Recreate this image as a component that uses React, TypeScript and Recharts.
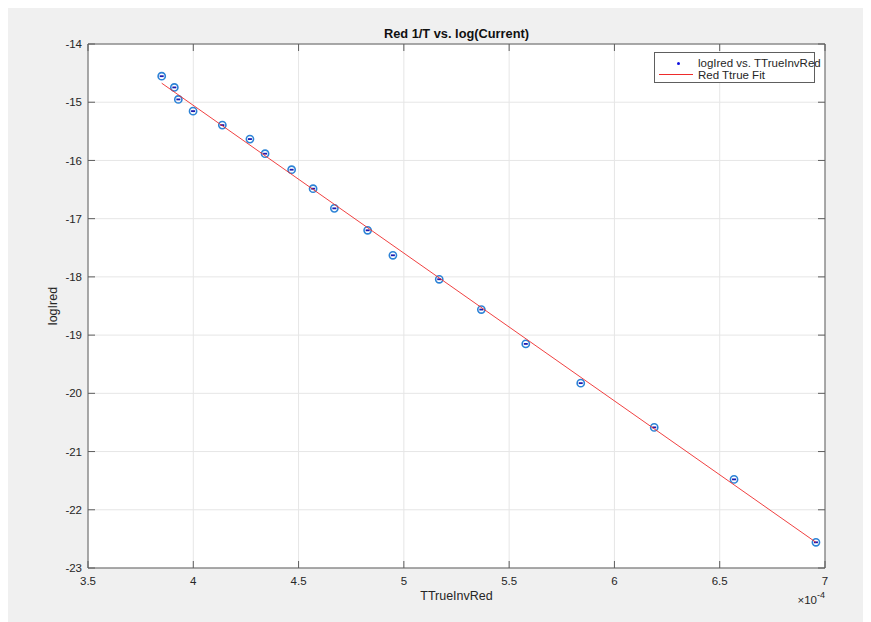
import React from "react";
import { ComposedChart, Scatter, XAxis, YAxis, CartesianGrid } from "recharts";

// Measured data (x in units of 1e-4)
const xValues = [3.850, 3.910, 3.929, 3.999, 4.138, 4.269, 4.341, 4.467, 4.569, 4.670, 4.828, 4.948, 5.168, 5.368, 5.579, 5.840, 6.189, 6.568, 6.957];
const yValues = [-14.553, -14.746, -14.952, -15.153, -15.393, -15.633, -15.884, -16.159, -16.485, -16.823, -17.200, -17.629, -18.041, -18.561, -19.151, -19.825, -20.585, -21.478, -22.559];
const fitX = [3.850, 6.957];
const fitY = [-14.673, -22.559];
const xTicks = [3.5, 4, 4.5, 5, 5.5, 6, 6.5, 7];
const yTicks = [-23, -22, -21, -20, -19, -18, -17, -16, -15, -14];

const pointData = xValues.map((x, i) => ({ x, y: yValues[i] }));
const fitData = fitX.map((x, i) => ({ x, y: fitY[i] }));

const FONT = "'Liberation Sans', Arial, Helvetica, sans-serif";
const AXIS = "#5e5e5e";
const TEXT = "#262626";
const TICK = 7;

const fmt = (v: number) => String(v);

const BottomTick = (p: any) => {
  const { x, y, payload } = p;
  const ay = y - 13;
  return (
    <g>
      <line x1={x} x2={x} y1={ay} y2={ay - TICK} stroke={AXIS} strokeWidth={1} />
      <text x={x} y={y} dy="0.36em" textAnchor="middle" fontSize={11.5} fontFamily={FONT} fill={TEXT}>
        {fmt(payload.value)}
      </text>
    </g>
  );
};
const TopTick = (p: any) => {
  const { x, y } = p;
  return <line x1={x} x2={x} y1={y} y2={y + TICK} stroke={AXIS} strokeWidth={1} />;
};
const LeftTick = (p: any) => {
  const { x, y, payload } = p;
  const ax = x + 6;
  return (
    <g>
      <line x1={ax} x2={ax + TICK} y1={y} y2={y} stroke={AXIS} strokeWidth={1} />
      <text x={x} y={y} dy="0.36em" textAnchor="end" fontSize={11.5} fontFamily={FONT} fill={TEXT}>
        {fmt(payload.value)}
      </text>
    </g>
  );
};
const RightTick = (p: any) => {
  const { x, y } = p;
  return <line x1={x} x2={x - TICK} y1={y} y2={y} stroke={AXIS} strokeWidth={1} />;
};

const PointShape = (p: any) => {
  const { cx, cy } = p;
  if (cx == null || cy == null) return null;
  return (
    <g>
      <circle cx={cx} cy={cy} r={3.6} fill="none" stroke="#2c83d6" strokeWidth={1.6} />
      <rect x={cx - 2} y={cy - 0.9} width={4} height={1.8} fill="#1b1bb0" />
    </g>
  );
};
const NoShape = () => null;

export default function App() {
  return (
    <div style={{ position: "relative", width: 863, height: 614, background: "#f0f0f0", fontFamily: FONT }}>
      <ComposedChart
        width={863}
        height={614}
        margin={{ top: 26, right: 36, bottom: 24, left: 30 }}
      >
        <CartesianGrid fill="#ffffff" stroke="#e6e6e6" strokeWidth={1} />
        <XAxis
          dataKey="x"
          type="number"
          domain={[3.5, 7]}
          ticks={xTicks}
          allowDataOverflow
          height={30}
          tickSize={0}
          tickMargin={13}
          tickLine={false}
          axisLine={{ stroke: AXIS, strokeWidth: 1 }}
          tick={<BottomTick />}
          interval={0}
        />
        <XAxis
          xAxisId="top"
          orientation="top"
          dataKey="x"
          type="number"
          domain={[3.5, 7]}
          ticks={xTicks}
          allowDataOverflow
          height={10}
          tickSize={0}
          tickMargin={0}
          tickLine={false}
          axisLine={{ stroke: AXIS, strokeWidth: 1 }}
          tick={<TopTick />}
          interval={0}
        />
        <YAxis
          dataKey="y"
          type="number"
          domain={[-23, -14]}
          ticks={yTicks}
          allowDataOverflow
          width={50}
          tickSize={0}
          tickMargin={6}
          tickLine={false}
          axisLine={{ stroke: AXIS, strokeWidth: 1 }}
          tick={<LeftTick />}
          interval={0}
        />
        <YAxis
          yAxisId="right"
          orientation="right"
          dataKey="y"
          type="number"
          domain={[-23, -14]}
          ticks={yTicks}
          allowDataOverflow
          width={10}
          tickSize={0}
          tickMargin={0}
          tickLine={false}
          axisLine={{ stroke: AXIS, strokeWidth: 1 }}
          tick={<RightTick />}
          interval={0}
        />
        <Scatter data={pointData} shape={<PointShape />} isAnimationActive={false} />
        <Scatter
          data={fitData}
          shape={<NoShape />}
          line={{ stroke: "#ee2b2b", strokeWidth: 0.9 }}
          isAnimationActive={false}
        />
      </ComposedChart>

      {/* Title */}
      <div style={{ position: "absolute", left: 0, width: 897, top: 17, height: 18, lineHeight: "18px", textAlign: "center", fontSize: 12.8, fontWeight: "bold", color: "#111" }}>
        Red 1/T vs. log(Current)
      </div>
      {/* X label */}
      <div style={{ position: "absolute", left: 0, width: 897, top: 580, height: 17, lineHeight: "17px", textAlign: "center", fontSize: 12.5, color: TEXT }}>
        TTrueInvRed
      </div>
      {/* x10^-4 */}
      <div style={{ position: "absolute", right: 863 - 817, top: 583, height: 18, lineHeight: "18px", fontSize: 11.5, color: TEXT, whiteSpace: "nowrap" }}>
        ×10<sup style={{ fontSize: 9, position: "relative", top: -1, verticalAlign: "super", lineHeight: 0 }}>-4</sup>
      </div>
      {/* Y label */}
      <div style={{ position: "absolute", left: 44.5 - 40, top: 298 - 9, width: 80, height: 18, lineHeight: "18px", textAlign: "center", fontSize: 12.5, color: TEXT, transform: "rotate(-90deg)" }}>
        logIred
      </div>
      {/* Legend */}
      <div style={{ position: "absolute", left: 646, top: 44, width: 159, height: 29, background: "#fff", border: `1px solid ${AXIS}`, fontSize: 11.5, color: TEXT }}>
        <div style={{ position: "absolute", left: 22, top: 9, width: 2.5, height: 2.5, background: "#1010e0", borderRadius: 2 }} />
        <div style={{ position: "absolute", left: 43, top: 2, lineHeight: "16px", whiteSpace: "nowrap" }}>logIred vs. TTrueInvRed</div>
        <div style={{ position: "absolute", left: 4, top: 21, width: 34, height: 1, background: "#ee2b2b" }} />
        <div style={{ position: "absolute", left: 43, top: 13.5, lineHeight: "16px", whiteSpace: "nowrap" }}>Red Ttrue Fit</div>
      </div>
    </div>
  );
}
